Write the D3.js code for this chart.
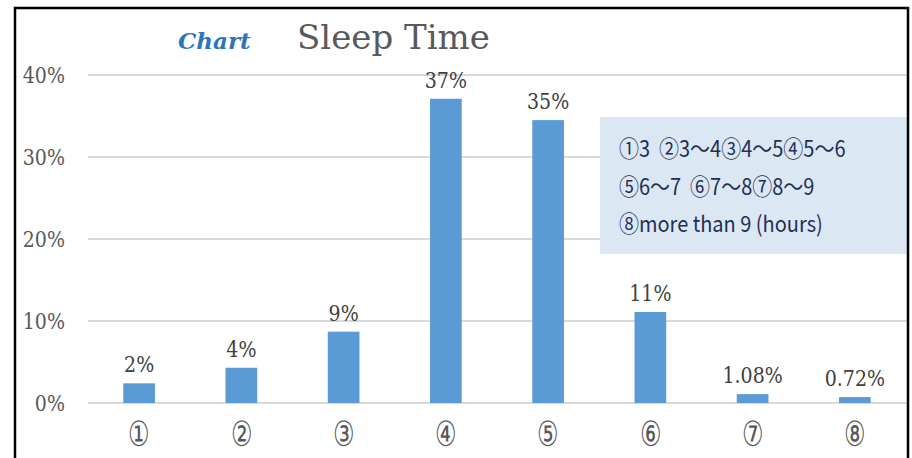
<!DOCTYPE html>
<html><head><meta charset="utf-8">
<script src="https://cdn.jsdelivr.net/npm/d3@7"></script>
<style>body{margin:0;background:#fff;}svg{display:block;}</style>
</head><body>
<svg id="c" width="912" height="458"></svg>
<script>
const categories = ["①","②","③","④","⑤","⑥","⑦","⑧"];
const values = [2.4, 4.3, 8.7, 37.1, 34.5, 11.1, 1.08, 0.72];
const valueLabels = ["2%","4%","9%","37%","35%","11%","1.08%","0.72%"];
const yTicks = [0, 10, 20, 30, 40];
const legendLines = ["①3  ②3～4③4～5④5～6", "⑤6～7  ⑥7～8⑦8～9", "⑧more than 9 (hours)"];

const svg = d3.select("#c");
const serif = "'DejaVu Serif','Liberation Serif',serif";
const grey = "#595959";

const x = d3.scaleBand().domain(categories).range([88, 906]).paddingInner(0.69).paddingOuter(0.345);
const y = d3.scaleLinear().domain([0, 40]).range([403, 75]);

// gridlines
svg.append("g").selectAll("line").data(yTicks).join("line")
  .attr("x1", 88).attr("x2", 908)
  .attr("y1", d => y(d)).attr("y2", d => y(d))
  .attr("stroke", "#d9d9d9").attr("stroke-width", 2);

// y tick labels
svg.append("g").selectAll("text").data(yTicks).join("text")
  .attr("text-anchor", "end")
  .attr("transform", d => `translate(65,${y(d) + 8}) scale(1,1.15)`)
  .attr("font-family", serif).attr("font-size", 19).attr("fill", grey)
  .text(d => d + "%");

// bars
svg.append("g").selectAll("rect").data(values).join("rect")
  .attr("x", (d, i) => x(categories[i]))
  .attr("width", x.bandwidth())
  .attr("y", d => y(d))
  .attr("height", d => y(0) - y(d))
  .attr("fill", "#5b9bd5");

// value labels
svg.append("g").selectAll("text").data(values).join("text")
  .attr("text-anchor", "middle")
  .attr("transform", (d, i) => `translate(${x(categories[i]) + x.bandwidth() / 2},${y(d) - 11}) scale(1,1.15)`)
  .attr("font-family", serif).attr("font-size", 19).attr("fill", "#404040")
  .text((d, i) => valueLabels[i]);

// category labels
svg.append("g").selectAll("text").data(categories).join("text")
  .attr("text-anchor", "middle")
  .attr("transform", d => `translate(${x(d) + x.bandwidth() / 2},446) scale(1.1,1.6)`)
  .attr("font-family", serif).attr("font-size", 22).attr("fill", grey)
  .text(d => d);

// title
svg.append("text").attr("x", 178).attr("y", 49)
  .attr("font-family", serif).attr("font-style", "italic").attr("font-weight", "bold")
  .attr("font-size", 23).attr("fill", "#2e75b6").text("Chart");
svg.append("text").attr("x", 297).attr("y", 49)
  .attr("font-family", serif).attr("font-size", 34).attr("fill", grey).text("Sleep Time");

// legend box
svg.append("rect").attr("x", 600).attr("y", 117).attr("width", 308).attr("height", 137)
  .attr("fill", "#dce7f4");
svg.append("g").selectAll("text").data(legendLines).join("text")
  .attr("transform", (d, i) => `translate(619,${157 + i * 37.5}) scale(1,1.12)`)
  .attr("font-family", "'Noto Sans CJK JP','Noto Sans',sans-serif")
  .attr("font-size", 20).attr("fill", "#1f2f55")
  .attr("xml:space", "preserve").style("white-space", "pre")
  .text(d => d);

// frame
svg.append("path").attr("d", "M15,460 V8 H908 V460")
  .attr("fill", "none").attr("stroke", "#000").attr("stroke-width", 2.5);
</script>
</body></html>
